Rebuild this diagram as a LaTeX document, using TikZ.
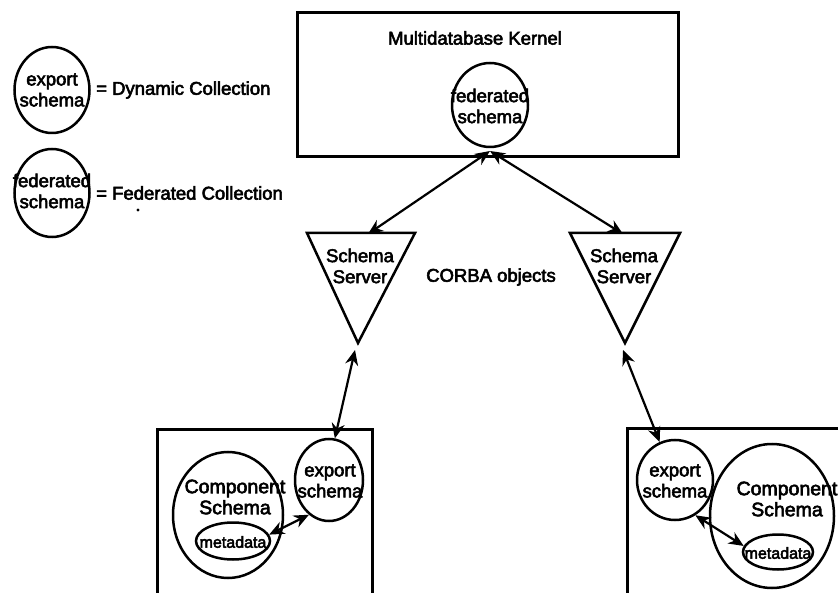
\documentclass[tikz,border=0pt]{standalone}
\usepackage{fontspec}
\setmainfont{Liberation Sans}[FakeBold=3]
\usetikzlibrary{shapes.geometric,arrows.meta}
\tikzset{
  ell/.style={draw, ellipse, line width=2.5pt, inner sep=0pt},
  boxline/.style={line width=3pt},
  txt/.style={font=\fontsize{18.5}{21}\selectfont, align=center, inner sep=0pt},
  smalltxt/.style={font=\fontsize{16}{18}\selectfont, align=center, inner sep=0pt},
  bigtxt/.style={font=\fontsize{19.5}{21}\selectfont, align=center, inner sep=0pt},
  arr/.style={line width=2.2pt, {Stealth[length=15pt,width=13pt]}-{Stealth[length=15pt,width=13pt]}},
}
\begin{document}
\begin{tikzpicture}[x=1pt,y=-1pt]
\useasboundingbox (0,0) rectangle (838,593);
\clip (0,0) rectangle (838,593);

% legend
\node[ell, minimum width=75pt, minimum height=86pt] (lg1) at (52,90) {};
\node[txt] (lg1t) at (52,90) {export\\schema};
\node[txt, anchor=west] (lg1l) at (96,90) {= Dynamic Collection};
\node[ell, minimum width=75pt, minimum height=88pt] (lg2) at (52,193) {};
\node[txt] (lg2t) at (52,191) {federated\\schema};
\node[txt, anchor=west] (lg2l) at (96,193) {= Federated Collection};
\fill (138,210) circle (1.6pt);

% kernel
\node[draw, boxline, rectangle, minimum width=381pt, minimum height=144pt] (kernel) at (487.5,85) {};
\node[txt] (kernelt) at (475,38) {Multidatabase Kernel};
\node[ell, minimum width=76pt, minimum height=84pt] (fed) at (490,105) {};
\node[txt] (fedt) at (490,106) {federated\\schema};
\coordinate (fedb) at (490,151);

% schema servers
\coordinate (sl1) at (307,233); \coordinate (sl2) at (415,233); \coordinate (sl3) at (358,343);
\draw[line width=2.5pt, line join=miter] (sl1) -- (sl2) -- (sl3) -- cycle;
\node[txt] (slt) at (360,266) {Schema\\Server};
\coordinate (sltop) at (368,234);
\coordinate (slbot) at (355,350);

\coordinate (sr1) at (570,233); \coordinate (sr2) at (680,233); \coordinate (sr3) at (625,343);
\draw[line width=2.5pt, line join=miter] (sr1) -- (sr2) -- (sr3) -- cycle;
\node[txt] (srt) at (624,266) {Schema\\Server};
\coordinate (srtop) at (623,234);
\coordinate (srbot) at (623,350);

\node[txt] (corba) at (491,277) {CORBA objects};

\draw[arr] (fedb) -- (sltop);
\draw[arr] (fedb) -- (srtop);

% left component box
\draw[boxline] (157,600) -- (157,429) -- (372,429) -- (372,600);
\node[ell, minimum width=68pt, minimum height=82pt] (exl) at (329,480) {};
\node[txt] (exlt) at (330,481) {export\\schema};
\node[ell, minimum width=110pt, minimum height=126pt] (coml) at (228,515) {};
\node[bigtxt] (comlt) at (235,497) {Component\\Schema};
\node[ell, minimum width=74pt, minimum height=37pt] (mdl) at (233,541) {};
\node[smalltxt] (mdlt) at (233,542) {metadata};
\draw[arr] (slbot) -- (exl.82);
\draw[arr] (mdl.10) -- (exl.-120);

% right component box
\draw[boxline] (627,600) -- (627,428) -- (845,428);
\node[ell, minimum width=76pt, minimum height=80pt] (exr) at (675,480) {};
\node[txt] (exrt) at (675,481) {export\\schema};
\node[ell, minimum width=124pt, minimum height=144pt] (comr) at (772,516) {};
\node[bigtxt] (comrt) at (787,499) {Component\\Schema};
\node[ell, minimum width=70pt, minimum height=35pt] (mdr) at (778,552) {};
\node[smalltxt] (mdrt) at (778,553) {metadata};
\draw[arr] (srbot) -- (exr.112);
\draw[arr] (mdr.170) -- (exr.-60);
\end{tikzpicture}
\end{document}
